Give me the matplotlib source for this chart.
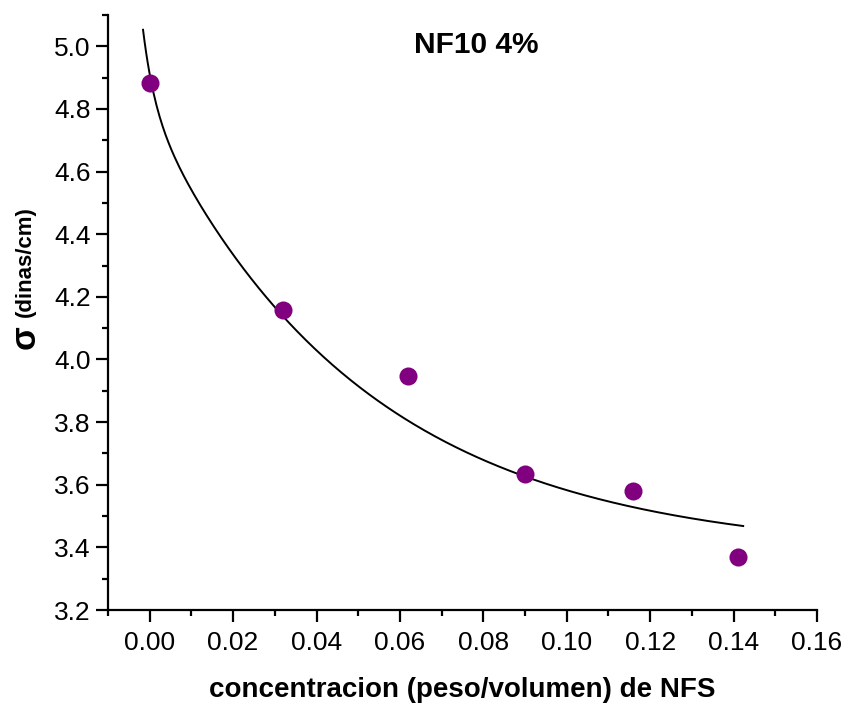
import numpy as np
import matplotlib
matplotlib.use("Agg")
import matplotlib.pyplot as plt
from matplotlib.ticker import MultipleLocator, FormatStrFormatter

# Data points
conc = [0.000, 0.032, 0.062, 0.090, 0.116, 0.141]
sigma = [4.882, 4.157, 3.947, 3.633, 3.581, 3.370]

# Fitted decay curve parameters (y0 + A1*exp(-x/t1) + A2*exp(-x/t2))
fit_y0 = 3.377
fit_A1 = 0.127
fit_t1 = 0.0028
fit_A2 = 1.407
fit_t2 = 0.052
fit_xmin = -0.0016
fit_xmax = 0.1423

title = "NF10 4%"
xlabel = "concentracion (peso/volumen) de NFS"

plt.rcParams['font.family'] = ['Liberation Sans', 'DejaVu Sans']

fig = plt.figure(figsize=(8.46, 7.06), dpi=100)
ax = fig.add_axes([108/846, 1-610/706, (817-108)/846, (610-15)/706])

xf = np.linspace(fit_xmin, fit_xmax, 400)
yf = fit_y0 + fit_A1*np.exp(-xf/fit_t1) + fit_A2*np.exp(-xf/fit_t2)
ax.plot(xf, yf, color='black', lw=1.4, zorder=2)
ax.plot(conc, sigma, 'o', color='#800080', ms=13, mec='none', zorder=3)

ax.set_xlim(-0.01, 0.16)
ax.set_ylim(3.2, 5.1)
ax.xaxis.set_major_locator(MultipleLocator(0.02))
ax.xaxis.set_minor_locator(MultipleLocator(0.01))
ax.yaxis.set_major_locator(MultipleLocator(0.2))
ax.yaxis.set_minor_locator(MultipleLocator(0.1))
ax.xaxis.set_major_formatter(FormatStrFormatter('%.2f'))
ax.yaxis.set_major_formatter(FormatStrFormatter('%.1f'))

for s in ['top', 'right']:
    ax.spines[s].set_visible(False)
for s in ['left', 'bottom']:
    ax.spines[s].set_linewidth(1.6)

ax.tick_params(which='major', direction='out', length=8.5, width=1.6, labelsize=19)
ax.tick_params(axis='x', which='major', pad=6.5)
ax.tick_params(axis='y', which='major', pad=4)
ax.tick_params(which='minor', direction='out', length=4.5, width=1.6)

fig.text(462/846, 1-690/706, xlabel, ha='center', va='center',
         fontsize=20, fontweight='bold')
fig.text(476/846, 1-45/706, title, ha='center', va='center',
         fontsize=21.5, fontweight='bold')

fig.text(25/846, 1-337/706, "σ", rotation=90, ha='center', va='center',
         fontsize=25, fontweight='bold')
fig.text(25/846, 1-262/706, "(dinas/cm)", rotation=90, ha='center', va='center',
         fontsize=16, fontweight='bold')

fig.savefig("out.png", dpi=100)
